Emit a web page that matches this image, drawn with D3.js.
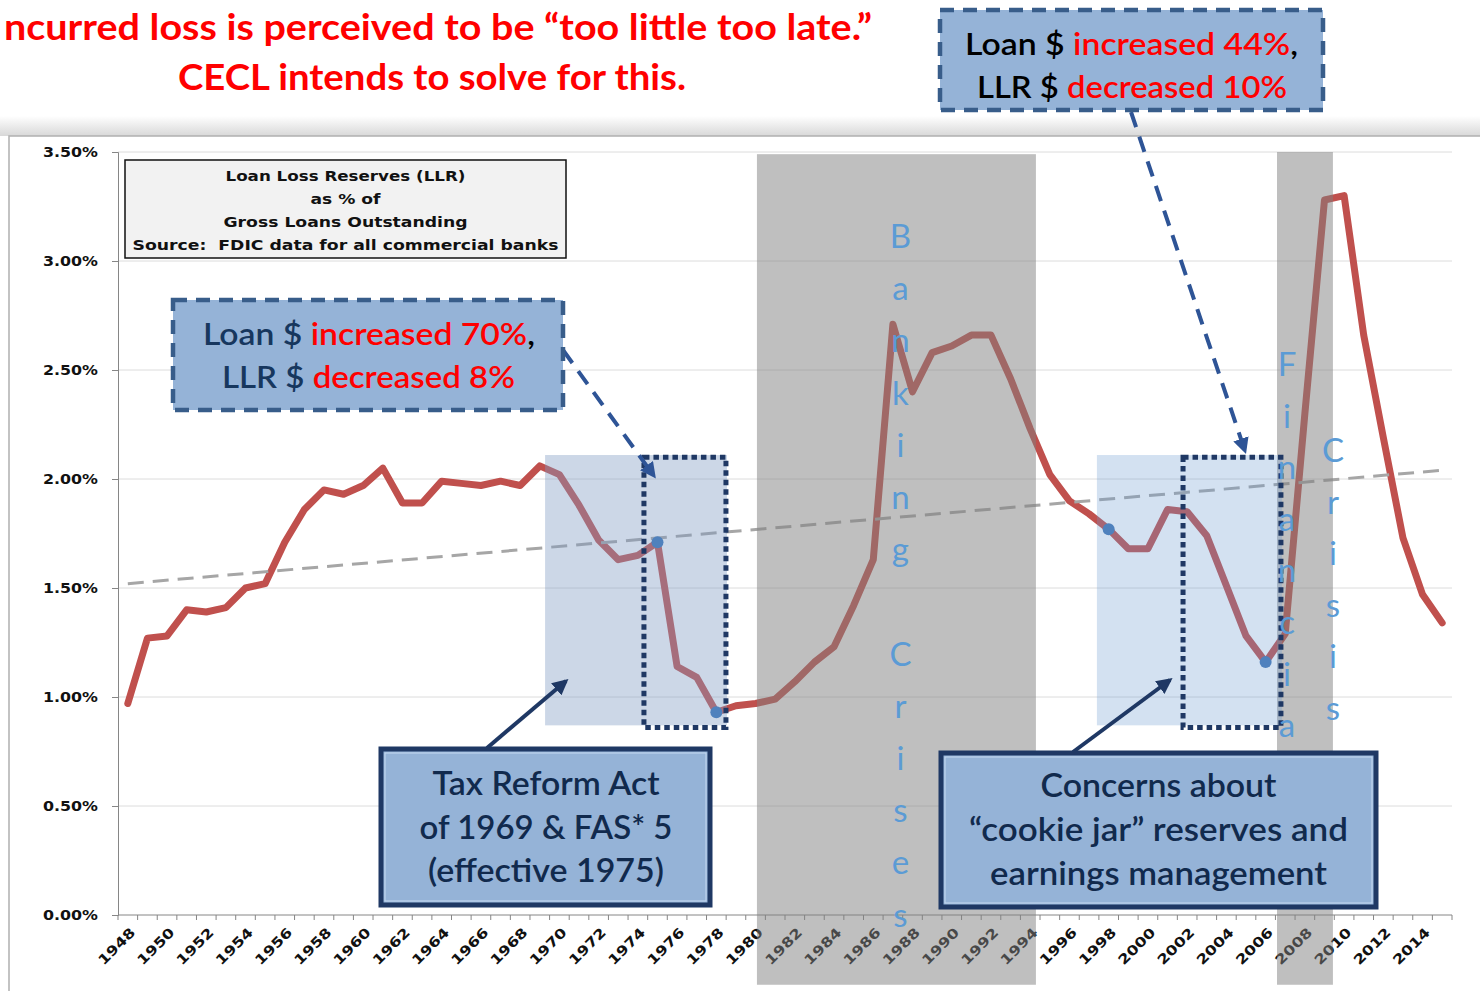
<!DOCTYPE html>
<html><head><meta charset="utf-8">
<script src="https://cdn.jsdelivr.net/npm/d3@7"></script>
<style>body{margin:0;background:#fff;overflow:hidden;} svg{display:block;}</style>
</head><body>
<svg id="c" width="1480" height="991"></svg>
<script>
// ---------------- DATA ----------------
const years = [1948,1949,1950,1951,1952,1953,1954,1955,1956,1957,1958,1959,1960,1961,1962,1963,1964,1965,1966,1967,1968,1969,1970,1971,1972,1973,1974,1975,1976,1977,1978,1979,1980,1981,1982,1983,1984,1985,1986,1987,1988,1989,1990,1991,1992,1993,1994,1995,1996,1997,1998,1999,2000,2001,2002,2003,2004,2005,2006,2007,2008,2009,2010,2011,2012,2013,2014,2015];
const llrPct = [0.97,1.27,1.28,1.40,1.39,1.41,1.50,1.52,1.71,1.86,1.95,1.93,1.97,2.05,1.89,1.89,1.99,1.98,1.97,1.99,1.97,2.06,2.02,1.88,1.72,1.63,1.65,1.71,1.14,1.09,0.93,0.96,0.97,0.99,1.07,1.16,1.23,1.42,1.63,2.71,2.40,2.58,2.61,2.66,2.66,2.46,2.23,2.02,1.90,1.84,1.77,1.68,1.68,1.86,1.85,1.74,1.51,1.28,1.16,1.29,2.30,3.28,3.30,2.66,2.19,1.73,1.47,1.34];
const yTicks = [0,0.5,1.0,1.5,2.0,2.5,3.0,3.5];
const xLabelYears = [1948,1950,1952,1954,1956,1958,1960,1962,1964,1966,1968,1970,1972,1974,1976,1978,1980,1982,1984,1986,1988,1990,1992,1994,1996,1998,2000,2002,2004,2006,2008,2010,2012,2014];
const trendYears = [1948, 2015];
const trendValues = [1.52, 2.04];
const highlightYears = [1975, 1978, 1998, 2006];
// crisis bands: [from, to] in fractional years
const bankingCrisisSpan = [1980.57, 1994.79];
const financialCrisisSpan = [2007.08, 2009.93];
// highlight regions: [fromYear, toYear, topPct, bottomPct]
const taxReformRegion = [1969.77, 1979.04, 2.11, 0.87];
const cookieJarRegion = [1997.90, 2007.33, 2.11, 0.87];
const taxReformFocus = [1974.81, 1978.99, 2.10, 0.86];
const cookieJarFocus = [2002.29, 2007.28, 2.10, 0.86];

// ---------------- SETUP ----------------
const svg = d3.select('#c');
const L = 118, R = 1452, T = 152, B = 915;
const x = d3.scaleBand().domain(years).range([L, R]).padding(0);
const xl = d3.scaleLinear().domain([1948, 2016]).range([L, R]);
const cx = yr => x(yr) + x.bandwidth() / 2;
const y = d3.scaleLinear().domain([0, 3.5]).range([B, T]);

const defs = svg.append('defs');
const sh = defs.append('linearGradient').attr('id','shadow').attr('x1',0).attr('y1',0).attr('x2',0).attr('y2',1);
sh.append('stop').attr('offset','0%').attr('stop-color','#fff');
sh.append('stop').attr('offset','100%').attr('stop-color','#d8d8d8');
function marker(id, color, size){
  defs.append('marker').attr('id', id).attr('viewBox','0 0 10 10').attr('refX',8).attr('refY',5)
    .attr('markerWidth',size).attr('markerHeight',size).attr('orient','auto').attr('markerUnits','userSpaceOnUse')
    .append('path').attr('d','M0,0 L10,5 L0,10 Z').attr('fill', color);
}
marker('arDash', '#2E5496', 16);
marker('arSolid', '#1F3864', 16);

// frame / shadow
svg.append('rect').attr('x',0).attr('y',116).attr('width',1480).attr('height',20).attr('fill','url(#shadow)');
svg.append('rect').attr('x',9).attr('y',136).attr('width',1480).attr('height',870)
  .attr('fill','#fff').attr('stroke','#b0b0b0').attr('stroke-width',1.5);

// title
const tf = "Lato, 'Open Sans', sans-serif";
svg.append('text').attr('x',4).attr('y',40).attr('font-family',tf).attr('font-weight',700)
  .attr('font-size',36).attr('fill','#FF0000').attr('textLength',868).attr('lengthAdjust','spacingAndGlyphs')
  .text('ncurred loss is perceived to be \u201Ctoo little too late.\u201D');
svg.append('text').attr('x',178).attr('y',90).attr('font-family',tf).attr('font-weight',700)
  .attr('font-size',36).attr('fill','#FF0000').attr('textLength',508).attr('lengthAdjust','spacingAndGlyphs')
  .text('CECL intends to solve for this.');

// gridlines
svg.append('g').selectAll('line').data(yTicks.slice(1)).join('line')
  .attr('x1',L).attr('x2',R).attr('y1',d=>y(d)).attr('y2',d=>y(d))
  .attr('stroke','#dcdcdc').attr('stroke-width',1);

// y axis
const yAxis = svg.append('g').attr('transform',`translate(${L},0)`)
  .call(d3.axisLeft(y).tickValues(yTicks).tickSize(6).tickFormat(d=>d3.format('.2f')(d)+'%'));
yAxis.select('.domain').attr('stroke','#868686');
yAxis.selectAll('.tick line').attr('stroke','#868686');
yAxis.selectAll('.tick text').attr('x',-20).attr('font-family','"DejaVu Sans", Verdana, sans-serif')
  .attr('font-weight',700).attr('font-size',13.5).attr('fill','#111')
  .attr('textLength',55).attr('lengthAdjust','spacingAndGlyphs');

// x axis
const xAxisG = svg.append('g');
xAxisG.append('line').attr('x1',L).attr('x2',R).attr('y1',B).attr('y2',B).attr('stroke','#868686');
xAxisG.selectAll('line.tk').data(years.concat([2016])).join('line').attr('class','tk')
  .attr('x1',d=>xl(d)).attr('x2',d=>xl(d)).attr('y1',B).attr('y2',B+5).attr('stroke','#868686');
xAxisG.selectAll('text').data(xLabelYears).join('text')
  .attr('transform',d=>`translate(${cx(d)+5},${B+15}) rotate(-45)`)
  .attr('text-anchor','end').attr('dy','0.35em')
  .attr('font-family','"DejaVu Sans", Verdana, sans-serif').attr('font-weight',700).attr('font-size',13.5)
  .attr('fill','#111').attr('textLength',46).attr('lengthAdjust','spacingAndGlyphs')
  .text(d=>d);

// series line
const lineGen = d3.line().x((d,i)=>cx(years[i])).y(d=>y(d));
svg.append('path').datum(llrPct).attr('d',lineGen).attr('fill','none')
  .attr('stroke','#C0504D').attr('stroke-width',7).attr('stroke-linejoin','round').attr('stroke-linecap','round');

// trend line
svg.append('line').attr('x1',cx(trendYears[0])).attr('x2',cx(trendYears[1]))
  .attr('y1',y(trendValues[0])).attr('y2',y(trendValues[1]))
  .attr('stroke','#a6a6a6').attr('stroke-width',3).attr('stroke-dasharray','16,9');

// crisis bands (overlay)
const bandBottom = -0.32;
[[bankingCrisisSpan, 3.49], [financialCrisisSpan, 3.50]].forEach(([s, top])=>{
  svg.append('rect').attr('x',xl(s[0])).attr('width',xl(s[1])-xl(s[0]))
    .attr('y',y(top)).attr('height',y(bandBottom)-y(top))
    .attr('fill','#808080').attr('fill-opacity',0.5);
});
// highlight regions
function region(r, fill, op){
  svg.append('rect').attr('x',xl(r[0])).attr('width',xl(r[1])-xl(r[0]))
    .attr('y',y(r[2])).attr('height',y(r[3])-y(r[2])).attr('fill',fill).attr('fill-opacity',op);
}
region(taxReformRegion, '#7f9cc2', 0.4);
region(cookieJarRegion, '#6c9bd0', 0.3);

// focus dotted boxes
[taxReformFocus, cookieJarFocus].forEach(r=>{
  svg.append('rect').attr('x',xl(r[0])).attr('width',xl(r[1])-xl(r[0]))
    .attr('y',y(r[2])).attr('height',y(r[3])-y(r[2])).attr('fill','none')
    .attr('stroke','#1F3864').attr('stroke-width',5).attr('stroke-dasharray','5.5,4');
});

// highlight dots
svg.append('g').selectAll('circle').data(highlightYears).join('circle')
  .attr('cx',d=>cx(d)).attr('cy',d=>y(llrPct[years.indexOf(d)])).attr('r',6).attr('fill','#4F81BD');

// vertical crisis labels
function vText(str, xc, y0, step){
  const g = svg.append('g');
  str.split('').forEach((ch,i)=>{
    if(ch===' ') return;
    g.append('text').attr('x',xc).attr('y',y0+i*step).attr('text-anchor','middle')
      .attr('font-family',tf).attr('font-size',33).attr('fill','#5B9BD5').text(ch);
  });
}
vText('Banking Crises', xl((bankingCrisisSpan[0]+bankingCrisisSpan[1])/2)+4, 248, 52.2);
vText('Financial', xl(financialCrisisSpan[0])+10, 376, 51.6);
vText('Crisis', xl(financialCrisisSpan[1]), 462, 51.6);

// legend box
svg.append('rect').attr('x',125).attr('y',160).attr('width',441).attr('height',98)
  .attr('fill','#F2F2F2').attr('stroke','#111').attr('stroke-width',1.5);
const legendLines = [['Loan Loss Reserves (LLR)',181,240],['as % of',204,70],['Gross Loans Outstanding',227,244],['Source:  FDIC data for all commercial banks',250,426]];
legendLines.forEach(([t,yy,w])=>{
  svg.append('text').attr('x',345.5).attr('y',yy).attr('text-anchor','middle')
    .attr('font-family','"DejaVu Sans", Verdana, sans-serif').attr('font-weight',700).attr('font-size',14)
    .attr('fill','#111').attr('textLength',w).attr('lengthAdjust','spacingAndGlyphs')
    .attr('xml:space','preserve').style('white-space','pre').text(t);
});

// arrows
function arrow(x1,y1,x2,y2,color,dash,mk){
  svg.append('line').attr('x1',x1).attr('y1',y1).attr('x2',x2).attr('y2',y2)
    .attr('stroke',color).attr('stroke-width',4).attr('stroke-dasharray',dash||null)
    .attr('marker-end',`url(#${mk})`);
}
arrow(563,350,654,476,'#2E5496','16,10','arDash');
arrow(1131,112,1245,451,'#2E5496','16,10','arDash');
arrow(487,748,566,681,'#1F3864',null,'arSolid');
arrow(1073,752,1170,680,'#1F3864',null,'arSolid');

// dashed callouts
function dashedCallout(x0,y0,w,h,lines){
  svg.append('rect').attr('x',x0).attr('y',y0).attr('width',w).attr('height',h)
    .attr('fill','#95B3D7').attr('stroke','#385D8A').attr('stroke-width',4.5).attr('stroke-dasharray','14,9');
  lines.forEach(l=>{
    const t = svg.append('text').attr('x',l.x).attr('y',l.y).attr('font-family',tf).attr('font-size',31)
      .attr('font-weight',600).attr('textLength',l.w).attr('lengthAdjust','spacingAndGlyphs');
    l.parts.forEach(p=>t.append('tspan').attr('fill',p[1]).text(p[0]));
  });
}
dashedCallout(173,300,390,110,[
  {x:203,y:345,w:332,parts:[['Loan $ ','#17375E'],['increased 70%','#FF0000'],[',','#000']]},
  {x:222,y:388,w:293,parts:[['LLR $ ','#17375E'],['decreased 8%','#FF0000']]}
]);
dashedCallout(940,10,383,100,[
  {x:965,y:55,w:333,parts:[['Loan $ ','#000'],['increased 44%','#FF0000'],[',','#000']]},
  {x:977,y:98,w:310,parts:[['LLR $ ','#000'],['decreased 10%','#FF0000']]}
]);

// solid callouts
function solidCallout(x0,y0,w,h,cxm,lines){
  svg.append('rect').attr('x',x0).attr('y',y0).attr('width',w).attr('height',h)
    .attr('fill','#95B3D7').attr('stroke','#1F3864').attr('stroke-width',5);
  svg.append('rect').attr('x',x0+4).attr('y',y0+4).attr('width',w-8).attr('height',h-8)
    .attr('fill','none').attr('stroke','#c6d9f1').attr('stroke-width',1);
  lines.forEach(([t,yy,tw])=>{
    svg.append('text').attr('x',cxm).attr('y',yy).attr('text-anchor','middle').attr('font-family',tf)
      .attr('font-size',32).attr('font-weight',600).attr('fill','#112a4d').attr('textLength',tw)
      .attr('lengthAdjust','spacingAndGlyphs').text(t);
  });
}
solidCallout(381,749,329,156,546,[['Tax Reform Act',795,227],['of 1969 & FAS* 5',839,253],['(effective 1975)',882,236]]);
solidCallout(941,753,435,154,1158.5,[['Concerns about',797,236],['\u201Ccookie jar\u201D reserves and',841,379],['earnings management',885,337]]);
</script>
</body></html>
